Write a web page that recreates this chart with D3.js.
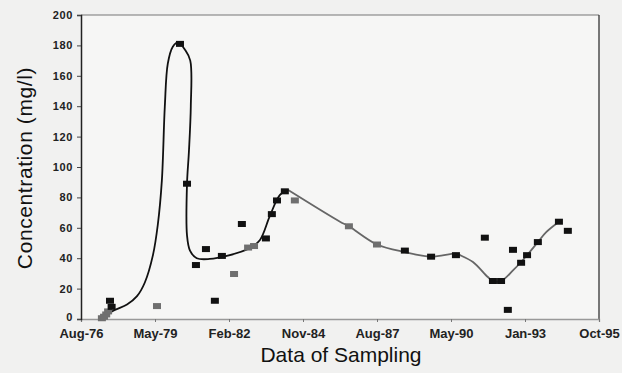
<!DOCTYPE html>
<html><head><meta charset="utf-8">
<script src="https://cdn.jsdelivr.net/npm/d3@7"></script>
<style>
html,body{margin:0;padding:0;background:#f1f1f0;}
svg{display:block;}
text{font-family:"Liberation Sans",Arial,Helvetica,sans-serif;}
</style></head>
<body>
<svg id="c" width="622" height="373"></svg>
<script>
// ---- data (decimal years, mg/l) ----
const blackDates = [1977.72, 1977.78, 1980.31, 1980.57, 1980.90, 1981.27, 1981.60, 1981.86, 1982.60, 1983.49, 1983.71, 1983.90, 1984.19, 1988.63, 1989.60, 1990.52, 1991.59, 1991.89, 1992.19, 1992.44, 1992.63, 1992.93, 1993.15, 1993.55, 1994.33, 1994.66];
const blackValues = [12, 8, 181, 89, 35.5, 46, 12, 41.5, 62.5, 53, 69, 78, 84, 45, 41, 42, 53.5, 25, 25, 6, 45.5, 37, 42, 50.6, 64, 58];
const grayDates = [1977.42, 1977.50, 1977.58, 1977.65, 1979.46, 1982.31, 1982.83, 1983.05, 1984.56, 1986.56, 1987.60];
const grayValues = [0.5, 1.5, 3, 5, 8.5, 29.6, 47, 48, 78, 61, 49];
const curveDates = [1977.61, 1977.90, 1978.35, 1978.72, 1979.01, 1979.31, 1979.49, 1979.64, 1979.75, 1979.86, 1980.04, 1980.24, 1980.50, 1980.69, 1980.71, 1980.64, 1980.57, 1980.57, 1980.68, 1980.93, 1981.41, 1982.04, 1982.90, 1983.27, 1983.64, 1984.01, 1984.30,
  1986.23, 1986.56, 1987.60, 1988.63, 1989.60, 1990.52, 1990.67, 1991.15, 1991.70, 1991.89, 1992.19, 1992.63, 1992.93, 1993.15, 1993.55, 1993.85, 1994.33];
const curveValues = [3, 6, 9.5, 15, 24, 42, 62, 91, 140, 168, 179, 182, 177, 170, 140, 110, 89, 55, 45, 40, 39.5, 41.5, 46.7, 52, 68, 81.6, 85,
  64, 61, 49, 44, 41, 43, 42, 37.5, 27.6, 25, 25, 32, 37.5, 42, 50.6, 57, 64];
const curveSplit = 1984.30; // black before, gray after
const xTickLabels = ["Aug-76","May-79","Feb-82","Nov-84","Aug-87","May-90","Jan-93","Oct-95"];
const yTicks = [0,20,40,60,80,100,120,140,160,180,200];

function toDate(y){
  const yr = Math.floor(y);
  const s = new Date(yr,0,1), e = new Date(yr+1,0,1);
  return new Date(s.getTime() + (y-yr)*(e-s));
}

const svg = d3.select("#c");
const L=81, R=599, T=15, B=319;
const start = new Date(1976,7,25);
const end = d3.timeDay.offset(start, 7000);
const x = d3.scaleTime().domain([start,end]).range([L,R]);
const y = d3.scaleLinear().domain([0,200]).range([B,T]);
const xTickVals = xTickLabels.map((d,i)=>d3.timeDay.offset(start,1000*i));

svg.append("rect").attr("x",L).attr("y",T).attr("width",R-L).attr("height",B-T).attr("fill","#f6f6f5");

// frame
svg.append("line").attr("x1",L).attr("x2",R).attr("y1",T).attr("y2",T).attr("stroke","#777").attr("stroke-width",1.2);
svg.append("line").attr("x1",R).attr("x2",R).attr("y1",T).attr("y2",B).attr("stroke","#333").attr("stroke-width",1.3);

// axes
const xAxis = d3.axisBottom(x).tickValues(xTickVals).tickSize(3).tickPadding(7)
  .tickFormat((d,i)=>xTickLabels[i]);
const gx = svg.append("g").attr("transform",`translate(0,${B})`).call(xAxis);
gx.select(".domain").attr("stroke","#999").attr("stroke-width",1.3);
gx.selectAll(".tick line").attr("stroke","#777");
gx.selectAll("text").attr("font-size",13).attr("font-weight","bold").attr("fill","#222")
  .attr("font-family","'Liberation Sans',Arial,sans-serif");

const yAxis = d3.axisLeft(y).tickValues(yTicks).tickSize(4).tickPadding(4);
const gy = svg.append("g").attr("transform",`translate(${L},0)`).call(yAxis);
gy.select(".domain").attr("stroke","#222").attr("stroke-width",1.5);
gy.selectAll(".tick line").attr("stroke","#444");
gy.selectAll("text").attr("font-size",11).attr("font-weight","bold").attr("fill","#222")
  .attr("letter-spacing","0.6px").attr("font-family","'Liberation Sans',Arial,sans-serif");
// keep the "0" label clear of the first date label
gy.selectAll(".tick").filter(d=>d===0).select("text").attr("dy","0.1em");

// curve
const curvePts = curveDates.map((d,i)=>({d:toDate(d), v:curveValues[i], yr:d}));
const line = d3.line().x(p=>x(p.d)).y(p=>y(p.v)).curve(d3.curveCatmullRom.alpha(0.5));
const splitIdx = curveDates.indexOf(curveSplit);
svg.append("path").attr("d",line(curvePts.slice(0,splitIdx+1)))
  .attr("fill","none").attr("stroke","#111").attr("stroke-width",1.8);
svg.append("path").attr("d",line(curvePts.slice(splitIdx)))
  .attr("fill","none").attr("stroke","#666").attr("stroke-width",1.8);

// markers
const mw=8, mh=6;
svg.append("g").selectAll("rect").data(grayDates.map((d,i)=>({d:toDate(d),v:grayValues[i]})))
  .join("rect").attr("x",p=>x(p.d)-mw/2).attr("y",p=>y(p.v)-mh/2).attr("width",mw).attr("height",mh)
  .attr("fill","#6f6f6f");
svg.append("g").selectAll("rect").data(blackDates.map((d,i)=>({d:toDate(d),v:blackValues[i]})))
  .join("rect").attr("x",p=>x(p.d)-mw/2).attr("y",p=>y(p.v)-mh/2).attr("width",mw).attr("height",mh)
  .attr("fill","#111");

// titles
svg.append("text").attr("x",341).attr("y",362).attr("text-anchor","middle")
  .attr("font-size",21).attr("fill","#111").text("Data of Sampling");
svg.append("text").attr("transform","translate(32,168) rotate(-90)").attr("text-anchor","middle")
  .attr("font-size",21).attr("fill","#111").attr("letter-spacing","0.6px").text("Concentration (mg/l)");
</script>
</body></html>
